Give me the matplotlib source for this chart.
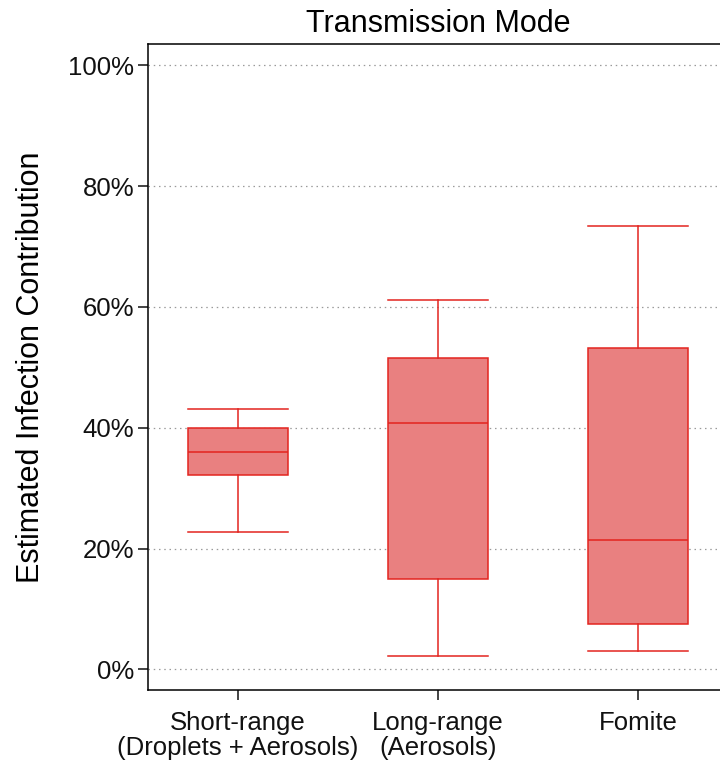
import matplotlib.pyplot as plt
from matplotlib.ticker import PercentFormatter

plt.rcParams['font.family'] = ['Liberation Sans', 'DejaVu Sans']

# Box statistics (fractions)
categories = ['Short-range\n(Droplets + Aerosols)', 'Long-range\n(Aerosols)', 'Fomite']
whisker_low = [0.228, 0.023, 0.031]
q1 = [0.322, 0.150, 0.076]
median = [0.360, 0.408, 0.215]
q3 = [0.400, 0.516, 0.532]
whisker_high = [0.431, 0.612, 0.734]
y_ticks = [0, 0.2, 0.4, 0.6, 0.8, 1.0]

edge = '#E3241F'
fill = '#E98080'

stats = []
for i, name in enumerate(categories):
    stats.append({'label': name, 'whislo': whisker_low[i], 'q1': q1[i], 'med': median[i],
                  'q3': q3[i], 'whishi': whisker_high[i], 'fliers': []})

fig = plt.figure(figsize=(7.2, 7.61), dpi=100)
ax = fig.add_axes([148 / 720, 71 / 761, 580 / 720, 646 / 761])

ax.yaxis.grid(True, linestyle=(0, (1.2, 3)), color='#9a9a9a', linewidth=0.9)
ax.set_axisbelow(True)

ax.bxp(stats, positions=[1, 2, 3], widths=0.5, patch_artist=True, showfliers=False,
       boxprops=dict(facecolor=fill, edgecolor=edge, linewidth=1.1),
       medianprops=dict(color=edge, linewidth=1.1),
       whiskerprops=dict(color=edge, linewidth=1.1),
       capprops=dict(color=edge, linewidth=1.1),
       capwidths=0.5)

ax.set_xlim(0.55, 3.45)
ax.set_ylim(-0.034, 1.035)
ax.set_yticks(y_ticks)
ax.yaxis.set_major_formatter(PercentFormatter(1.0, decimals=0))
ax.set_xticks([1, 2, 3])
ax.set_xticklabels(categories, linespacing=1.05)
ax.tick_params(axis='both', direction='out', length=7, width=1.1, labelsize=18.5, colors='#111111')
ax.tick_params(axis='y', pad=3)
ax.tick_params(axis='x', pad=8)

for s in ['left', 'bottom', 'top']:
    ax.spines[s].set_linewidth(1.1)
ax.spines['right'].set_visible(False)

ax.set_title('Transmission Mode', fontsize=22, pad=9)
ax.set_ylabel('Estimated Infection Contribution', fontsize=22, labelpad=16)

fig.savefig('out.png', dpi=100)
